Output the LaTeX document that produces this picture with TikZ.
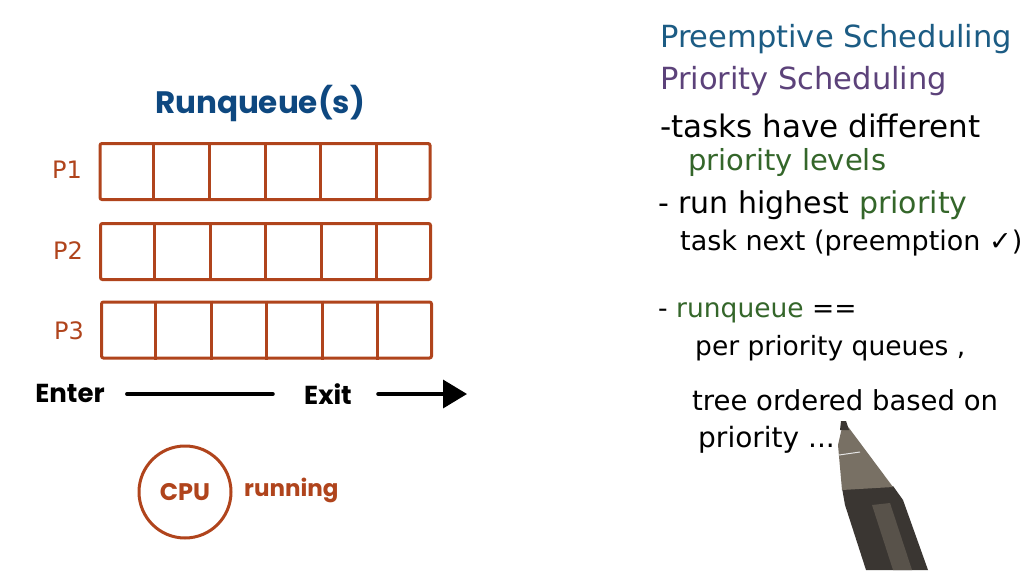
\documentclass[tikz,border=0pt]{standalone}
\usepackage{fontspec}
\setmainfont{DejaVu Sans}
\newfontfamily\geo{Poppins}
\newfontfamily\hand{DejaVu Sans}
\usetikzlibrary{calc,arrows.meta}
\definecolor{qorange}{RGB}{176,68,28}
\definecolor{qblue}{RGB}{14,72,128}
\definecolor{hblue}{RGB}{28,92,132}
\definecolor{hpurple}{RGB}{92,66,122}
\definecolor{hgreen}{RGB}{52,102,42}
\definecolor{penlight}{RGB}{120,112,100}
\definecolor{pendark}{RGB}{58,54,50}
\definecolor{penmid}{RGB}{88,82,74}
\newcommand{\fs}[1]{\fontsize{#1}{#1}\selectfont}
\tikzset{
  qrow/.style={draw=qorange, line width=3pt, rounded corners=2pt, minimum width=330pt, minimum height=56pt, inner sep=0pt},
  qdiv/.style={draw=qorange, line width=3pt},
  plabel/.style={text=qorange, font=\hand\fs{24}, inner sep=0pt},
  bigword/.style={font=\geo\bfseries\fs{26}, inner sep=0pt},
  flowline/.style={line width=3.5pt, line cap=round},
  hw/.style={anchor=base west, inner sep=0pt, font=\hand\fs{26.5}},
}
\begin{document}
\begin{tikzpicture}[x=1pt,y=-1pt]
\useasboundingbox[fill=white] (0,0) rectangle (1032,570);

% title
\node[text=qblue, font=\geo\bfseries\fs{31}, inner sep=0pt] (title) at (260,103) {Runqueue(s)};

% queues
\node[qrow] (r1) at (265,171.5) {};
\node[qrow] (r2) at (265.5,251.5) {};
\node[qrow] (r3) at (266.5,330) {};
\foreach \r in {r1,r2,r3}{
  \foreach \k in {1,...,5}{
    \draw[qdiv] ($(\r.north west)!\k/6!(\r.north east)$) -- ($(\r.south west)!\k/6!(\r.south east)$);
  }
}
\node[plabel] (p1) at (67,170) {P1};
\node[plabel] (p2) at (68,251) {P2};
\node[plabel] (p3) at (69,331) {P3};

% enter / exit
\node[bigword] (enter) at (70,393) {Enter};
\node[bigword] (exit) at (328,394) {Exit};
\coordinate (out) at (467,394);
\draw[flowline] ([xshift=22pt]enter.east |- 0,394) -- ([xshift=-31pt]exit.west |- 0,394);
\draw[flowline, -{Triangle[length=24pt,width=28pt]}] ([xshift=26pt]exit.east |- 0,394) -- (out);

% CPU
\node[draw=qorange, line width=3pt, circle, minimum size=92pt, inner sep=0pt, text=qorange, font=\geo\bfseries\fs{24}] (cpu) at (185,492) {CPU};
\node[anchor=west, text=qorange, font=\geo\bfseries\fs{23}, inner sep=0pt] (run) at (244,490) {running};

% handwritten notes
\node[hw, text=hblue, font=\hand\fs{30.5}] (l1) at (660,47) {Preemptive Scheduling};
\node[hw, text=hpurple, font=\hand\fs{30.5}] (l2) at (660,89) {Priority Scheduling};
\node[hw, font=\hand\fs{31}] (l3) at (660,137) {-tasks have different};
\node[hw, text=hgreen, font=\hand\fs{29}] (l4) at (688,170) {priority levels};
\node[hw, font=\hand\fs{30}] (l5) at (658,213) {- run highest \textcolor{hgreen}{priority}};
\node[hw, font=\hand\fs{27}] (l6) at (680,250) {task next (preemption ✓)};
\node[hw] (l7) at (658,317) {- \textcolor{hgreen}{runqueue} ==};
\node[hw] (l8) at (695,355) {per priority queues ,};
\node[hw, font=\hand\fs{27.5}] (l9) at (692,410) {tree ordered based on};
\node[hw, font=\hand\fs{28}] (l10) at (698,447) {priority ...};

% pen
\fill[pendark] (842,488) -- (893,486) -- (903,500) -- (928,570) -- (866,570) -- (845,505) -- cycle;
\fill[penmid] (872,505) -- (890,503) -- (912,570) -- (893,570) -- cycle;
\fill[penlight] (843,423) -- (849,428) -- (893,487) -- (842,490) -- (838,445) -- cycle;
\fill[pendark] (841,421) -- (846,421) -- (849,430) -- (840,430) -- cycle;
\draw[white!80!gray, line width=1pt] (839,455) -- (860,452);
\end{tikzpicture}
\end{document}
